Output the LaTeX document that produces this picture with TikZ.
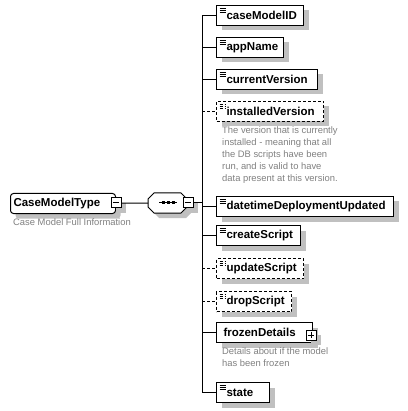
\documentclass[tikz,border=0pt]{standalone}
\usepackage{fontspec}
\setmainfont{Liberation Sans}
\usetikzlibrary{shadows,calc}
\definecolor{shadowgray}{HTML}{C0C0C0}
\definecolor{notegray}{HTML}{808080}
\tikzset{
  elname/.style={font=\bfseries\fontsize{11.5}{13}\selectfont},
  shad/.style={drop shadow={shadow xshift=5pt, shadow yshift=-5pt, fill=shadowgray, opacity=1}},
  box/.style={draw=black, line width=1pt, fill=white, inner xsep=0pt, inner ysep=0pt,
    anchor=north west, minimum height=20pt, align=left, shad, elname},
  optbox/.style={box, dash pattern=on 3pt off 2pt},
  icon/.style={path picture={
     \foreach \dy in {2.5,4.5,6.5}{
       \draw[line width=0.8pt] ($(path picture bounding box.north west)+(3pt,-\dy pt)$) -- ++(6pt,0pt);}
  }},
  note/.style={text=notegray, font=\fontsize{9.4}{12}\selectfont, align=left, anchor=north west, inner sep=0pt},
  conn/.style={line width=1pt},
  optconn/.style={conn, dash pattern=on 3pt off 2pt},
  tog/.style={draw=black, line width=1pt, fill=white, minimum size=10pt, inner sep=0pt, shad},
}
\begin{document}
\begin{tikzpicture}[x=1pt,y=-1pt]
\useasboundingbox (0,0) rectangle (407,411);
% root type
\node[box, rounded corners=3pt, text width=105pt] (root) at (10,193) {\hspace*{3pt}CaseModelType};
\node[note] (rootnote) at (13,218) {Case Model Full Information};
\node[tog] (rootmin) at (116,203) {};
\draw[line width=1pt] (rootmin.west) ++(2pt,0pt) -- ++(6pt,0pt);
% sequence
\node[draw=none, inner sep=0pt, minimum width=39pt, minimum height=20pt, anchor=north west] (seq) at (148,193) {};
\fill[shadowgray] (159,198) -- (186,198) -- (192,204) -- (192,212) -- (186,218) -- (159,218) -- (153,212) -- (153,204) -- cycle;
\draw[line width=1pt, fill=white] (154,193) -- (181,193) -- (187,199) -- (187,207) -- (181,213) -- (154,213) -- (148,207) -- (148,199) -- cycle;
\draw[line width=1pt] (159,203) -- (177,203);
\foreach \xx in {163,168,173} \fill (\xx-1.5,201.5) rectangle (\xx+1.5,204.5);
\node[tog] (seqmin) at (188,203) {};
\draw[line width=1pt] (seqmin.west) ++(2pt,0pt) -- ++(6pt,0pt);
\draw[conn] (rootmin.east) -- (seq.west);
% children
\node[box, icon, text width=87pt]  (c1)  at (216,5)   {\hspace*{10pt}caseModelID};
\node[box, icon, text width=67pt]  (c2)  at (216,37)  {\hspace*{10pt}appName};
\node[box, icon, text width=101pt] (c3)  at (216,69)  {\hspace*{10pt}currentVersion};
\node[optbox, icon, text width=107pt] (c4) at (216,101) {\hspace*{10pt}installedVersion};
\node[note] (n4) at (222,126) {The version that is currently\\installed - meaning that all\\the DB scripts have been\\run, and is valid to have\\data present at this version.};
\node[box, icon, text width=177pt] (c5)  at (216,196) {\hspace*{10pt}datetimeDeploymentUpdated};
\node[box, icon, text width=84pt]  (c6)  at (216,225) {\hspace*{10pt}createScript};
\node[optbox, icon, text width=87pt] (c7) at (216,258) {\hspace*{10pt}updateScript};
\node[optbox, icon, text width=75pt] (c8) at (216,291) {\hspace*{10pt}dropScript};
\node[box, text width=96pt] (c9)  at (216,322) {\hspace*{7pt}frozenDetails};
\node[tog] (c9plus) at (311,335) {};
\draw[line width=1pt] (c9plus.west) ++(2pt,0pt) -- ++(6pt,0pt) (c9plus.north) ++(0pt,-2pt) -- ++(0pt,-6pt);
\node[note] (n9) at (222,347) {Details about if the model\\has been frozen};
\node[box, icon, text width=53pt]  (c10) at (216,382) {\hspace*{10pt}state};
% connectors
\coordinate (bus) at (202,203);
\draw[conn] (seqmin.east) -- (bus);
\draw[conn] (c1.west -| bus) -- (c10.west -| bus);
\foreach \c in {c1,c2,c3,c5,c6,c9,c10} \draw[conn] (\c.west -| bus) -- (\c.west);
\foreach \c in {c4,c7,c8} \draw[optconn] (\c.west -| bus) -- (\c.west);
\end{tikzpicture}
\end{document}
